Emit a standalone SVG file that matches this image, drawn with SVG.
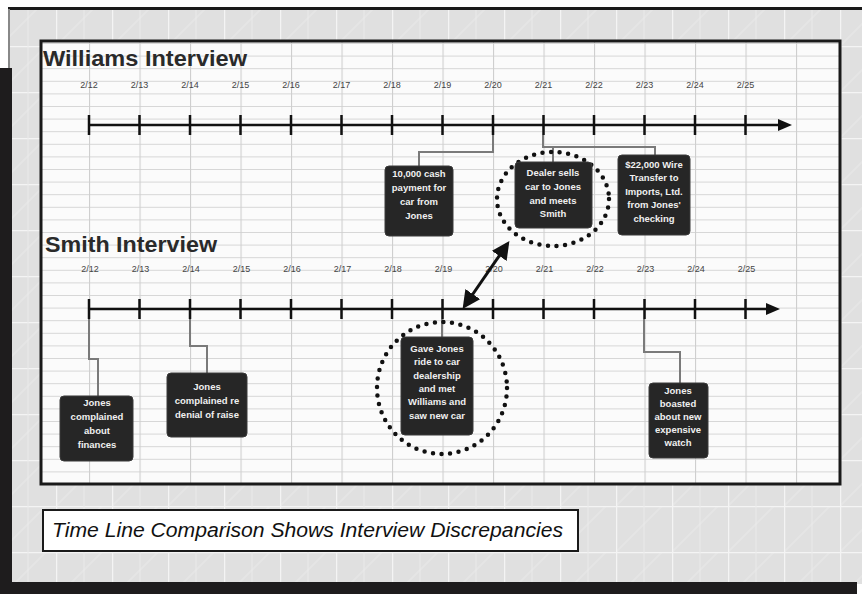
<svg xmlns="http://www.w3.org/2000/svg" width="862" height="594" viewBox="0 0 862 594">
<defs>
<style>
.title{font-family:"Liberation Sans",Arial,sans-serif;font-weight:bold;font-size:22px;fill:#2a2a2a}
.date{font-family:"Liberation Sans",Arial,sans-serif;font-size:9px;fill:#444;text-anchor:middle}
.axis{stroke:#111;stroke-width:2.5;fill:none}
.tick{stroke:#111;stroke-width:2.5}
.box{fill:#262626;stroke:#3a3a3a;stroke-width:1}
.bt{font-family:"Liberation Sans",Arial,sans-serif;font-weight:bold;font-size:9.5px;fill:#f0f0f0;text-anchor:middle}
.conn{stroke:#7a7a7a;stroke-width:2;fill:none}
.dots{fill:none;stroke:#111;stroke-width:4.5;stroke-linecap:round;stroke-dasharray:0 8.6}
.cap{font-family:"Liberation Sans",Arial,sans-serif;font-style:italic;font-size:20px;fill:#111}
</style>
<pattern id="bg" patternUnits="userSpaceOnUse" x="0" y="0" width="56" height="46">
<rect width="56" height="46" fill="#e0e0e0"/>
<path d="M0 46 L46 0" stroke="#e5e5e5" stroke-width="2"/>
<path d="M0.5 0 V46 M0 0.5 H56" stroke="#f4f4f4" stroke-width="1.5"/>
<path d="M28 0 V46" stroke="#ebebeb" stroke-width="1"/>
</pattern>
<pattern id="grid" patternUnits="userSpaceOnUse" x="38.5" y="43" width="50.5" height="12.6">
<rect width="50.5" height="12.6" fill="#fbfbfb"/>
<path d="M0 0.5 H50.5" stroke="#d6d6d6" stroke-width="1"/>
<path d="M0.5 0 V12.6" stroke="#cfcfcf" stroke-width="1.2"/>
</pattern>
<marker id="ah" markerWidth="6" markerHeight="6" refX="4" refY="3" orient="auto-start-reverse" markerUnits="strokeWidth">
<path d="M0 0 L6 3 L0 6 Z" fill="#111"/>
</marker>
</defs>

<g id="background">
<rect width="862" height="594" fill="#ffffff"/>
<rect x="9" y="9" width="853" height="575" fill="url(#bg)"/>
<rect x="8" y="7" width="854" height="3" fill="#1a1a1a"/>
<rect x="8" y="9" width="2" height="60" fill="#888"/>
<rect x="0" y="68" width="12" height="526" fill="#1e1c1d"/>
<rect x="0" y="582" width="857" height="12" fill="#1e1c1d"/>
</g>

<g id="panel">
<rect x="41" y="41" width="799" height="443" fill="url(#grid)" stroke="#1a1a1a" stroke-width="3"/>
</g>

<g id="williams-timeline">
<text class="title" x="43" y="66" textLength="204" lengthAdjust="spacingAndGlyphs">Williams Interview</text>
<g class="date">
<text x="89" y="88">2/12</text><text x="139.5" y="88">2/13</text><text x="190" y="88">2/14</text><text x="240.5" y="88">2/15</text><text x="291" y="88">2/16</text><text x="341.5" y="88">2/17</text><text x="392" y="88">2/18</text><text x="442.5" y="88">2/19</text><text x="493" y="88">2/20</text><text x="543.5" y="88">2/21</text><text x="594" y="88">2/22</text><text x="644.5" y="88">2/23</text><text x="695" y="88">2/24</text><text x="745.5" y="88">2/25</text>
</g>
<path class="axis" d="M89 125 H782"/>
<path d="M792 125 L778 119 L778 131 Z" fill="#111"/>
<path class="tick" d="M89 115 V135 M139.5 115 V135 M190 115 V135 M240.5 115 V135 M291 115 V135 M341.5 115 V135 M392 115 V135 M442.5 115 V135 M493 115 V135 M543.5 115 V135 M594 115 V135 M644.5 115 V135 M695 115 V135 M745.5 115 V135"/>
</g>

<g id="smith-timeline">
<text class="title" x="45" y="252" textLength="172" lengthAdjust="spacingAndGlyphs">Smith Interview</text>
<g class="date">
<text x="90" y="272">2/12</text><text x="140.5" y="272">2/13</text><text x="191" y="272">2/14</text><text x="241.5" y="272">2/15</text><text x="292" y="272">2/16</text><text x="342.5" y="272">2/17</text><text x="393" y="272">2/18</text><text x="443.5" y="272">2/19</text><text x="494" y="272">2/20</text><text x="544.5" y="272">2/21</text><text x="595" y="272">2/22</text><text x="645.5" y="272">2/23</text><text x="696" y="272">2/24</text><text x="746.5" y="272">2/25</text>
</g>
<path class="axis" d="M89 309 H770"/>
<path d="M780 309 L766 303 L766 315 Z" fill="#111"/>
<path class="tick" d="M89 299 V319 M139.5 299 V319 M190 299 V319 M240.5 299 V319 M291 299 V319 M341.5 299 V319 M392 299 V319 M442.5 299 V319 M493 299 V319 M543.5 299 V319 M594 299 V319 M644.5 299 V319 M695 299 V319 M745.5 299 V319"/>
</g>

<g id="connectors">
<path class="conn" d="M493 135 V152 H419 V166"/>
<path class="conn" d="M543 135 V147 H655 V156"/>
<path class="conn" d="M553 147 V162"/>
<path class="conn" d="M89 319 V359 H98 V396"/>
<path class="conn" d="M190 319 V346 H207 V373"/>
<path class="conn" d="M442 319 V337"/>
<path class="conn" d="M644 319 V352 H680 V383"/>
<line x1="466" y1="304" x2="506" y2="246" stroke="#111" stroke-width="3" marker-start="url(#ah)" marker-end="url(#ah)"/>
</g>

<g id="node-cash-payment">
<rect class="box" x="385" y="166" width="68" height="70" rx="4"/>
<text class="bt"><tspan x="419" y="177">10,000 cash</tspan><tspan x="419" y="191">payment for</tspan><tspan x="419" y="205">car from</tspan><tspan x="419" y="219">Jones</tspan></text>
</g>

<g id="node-dealer-sells">
<ellipse class="dots" cx="553" cy="199" rx="56" ry="47"/>
<rect class="box" x="515" y="162" width="77" height="66" rx="4"/>
<text class="bt"><tspan x="553" y="176">Dealer sells</tspan><tspan x="553" y="190">car to Jones</tspan><tspan x="553" y="204">and meets</tspan><tspan x="553" y="217">Smith</tspan></text>
</g>

<g id="node-wire-transfer">
<rect class="box" x="618" y="155" width="72" height="80" rx="4"/>
<text class="bt"><tspan x="654" y="168">$22,000 Wire</tspan><tspan x="654" y="181">Transfer to</tspan><tspan x="654" y="195">Imports, Ltd.</tspan><tspan x="654" y="208">from Jones'</tspan><tspan x="654" y="222">checking</tspan></text>
</g>

<g id="node-finances">
<rect class="box" x="60" y="396" width="73" height="65" rx="4"/>
<text class="bt"><tspan x="97" y="406">Jones</tspan><tspan x="97" y="420">complained</tspan><tspan x="97" y="434">about</tspan><tspan x="97" y="448">finances</tspan></text>
</g>

<g id="node-raise">
<rect class="box" x="167" y="373" width="80" height="64" rx="4"/>
<text class="bt"><tspan x="207" y="390">Jones</tspan><tspan x="207" y="404">complained re</tspan><tspan x="207" y="418">denial of raise</tspan></text>
</g>

<g id="node-gave-ride">
<ellipse class="dots" cx="442" cy="388" rx="65" ry="66"/>
<rect class="box" x="401" y="337" width="72" height="98" rx="4"/>
<text class="bt"><tspan x="437" y="352">Gave Jones</tspan><tspan x="437" y="365">ride to car</tspan><tspan x="437" y="379">dealership</tspan><tspan x="437" y="392">and met</tspan><tspan x="437" y="405">Williams and</tspan><tspan x="437" y="419">saw new car</tspan></text>
</g>

<g id="node-watch">
<rect class="box" x="649" y="383" width="59" height="75" rx="4"/>
<text class="bt"><tspan x="678" y="394">Jones</tspan><tspan x="678" y="407">boasted</tspan><tspan x="678" y="420">about new</tspan><tspan x="678" y="433">expensive</tspan><tspan x="678" y="446">watch</tspan></text>
</g>

<g id="caption">
<rect x="43" y="510" width="535" height="41" fill="#ffffff" stroke="#1a1a1a" stroke-width="2"/>
<text class="cap" x="52" y="537" textLength="511" lengthAdjust="spacingAndGlyphs">Time Line Comparison Shows Interview Discrepancies</text>
</g>
</svg>
